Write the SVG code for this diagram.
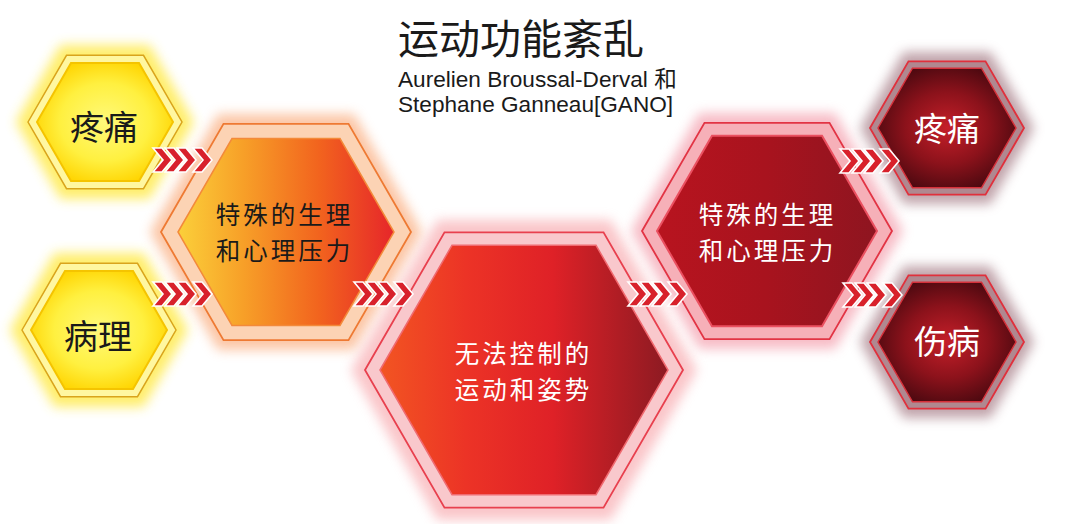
<svg xmlns="http://www.w3.org/2000/svg" xmlns:xlink="http://www.w3.org/1999/xlink" width="1081" height="524" viewBox="0 0 1081 524">
<style>
.cjk{font-family:"Noto Sans CJK SC","Noto Sans",sans-serif;}
.lat{font-family:"Liberation Sans","Noto Sans CJK SC",Arial,sans-serif;}
.dark{fill:#1a1a1a;}
.light{fill:#ffffff;}
.two{font-size:24.5px;letter-spacing:3px;}
.chev{fill:#d8212b;stroke:#ffffff;stroke-width:1.6;stroke-linejoin:miter;}
</style>
<defs>
<filter id="blur" x="-30%" y="-30%" width="160%" height="160%"><feGaussianBlur stdDeviation="6"/></filter>
<radialGradient id="gYellow" cx="50%" cy="50%" r="55%">
<stop offset="0" stop-color="#fff97a"/><stop offset="0.6" stop-color="#fff040"/><stop offset="1" stop-color="#ffd400"/>
</radialGradient>
<linearGradient id="gOrange" x1="0" y1="0" x2="1" y2="0">
<stop offset="0" stop-color="#fbd03a"/><stop offset="0.3" stop-color="#f7a028"/><stop offset="0.65" stop-color="#f2641e"/><stop offset="1" stop-color="#e6262a"/>
</linearGradient>
<linearGradient id="gRed" x1="0" y1="0" x2="1" y2="0">
<stop offset="0" stop-color="#f25522"/><stop offset="0.3" stop-color="#ec3326"/><stop offset="0.6" stop-color="#df2127"/><stop offset="1" stop-color="#8c1a22"/>
</linearGradient>
<linearGradient id="gCrimson" x1="0" y1="0" x2="1" y2="0">
<stop offset="0" stop-color="#b8141f"/><stop offset="0.5" stop-color="#a8131e"/><stop offset="1" stop-color="#8e1520"/>
</linearGradient>
<radialGradient id="gDark" cx="50%" cy="50%" r="55%">
<stop offset="0" stop-color="#c51f29"/><stop offset="0.55" stop-color="#8c121b"/><stop offset="1" stop-color="#4c0910"/>
</radialGradient>
<g id="chevs">
<polygon class="chev" points="0,0 9,0 19,12 9,24 0,24 10,12"/>
<polygon class="chev" points="12,0 21,0 31,12 21,24 12,24 22,12"/>
<polygon class="chev" points="24,0 33,0 43,12 33,24 24,24 34,12"/>
<polygon class="chev" points="40,0 49,0 59,12 49,24 40,24 50,12"/>
</g>
</defs>
<rect width="1081" height="524" fill="#ffffff"/>

<g id="title">
<text class="cjk dark" x="398" y="54" font-size="41">运动功能紊乱</text>
<text class="lat dark" x="398" y="87" font-size="22.6">Aurelien Broussal-Derval 和</text>
<text class="lat dark" x="398" y="112" font-size="22.6">Stephane Ganneau[GANO]</text>
</g>

<g id="node-pain-left">
<polygon points="16,122 60.5,45 149.5,45 194,122 149.5,199 60.5,199" fill="#ffe83a" opacity="0.75" filter="url(#blur)"/>
<polygon points="28,122 66.5,55.3 143.5,55.3 182,122 143.5,188.7 66.5,188.7" fill="#fff7a0" stroke="#d9a41c" stroke-width="1.5"/>
<polygon points="37,122 71,63 139,63 173,122 139,181 71,181" fill="url(#gYellow)" stroke="#f5c400" stroke-width="2"/>
<text class="cjk dark" x="104" y="140" font-size="34" text-anchor="middle">疼痛</text>
</g>

<g id="node-pathology">
<polygon points="10,330 54.5,253 143.5,253 188,330 143.5,407 54.5,407" fill="#ffe83a" opacity="0.75" filter="url(#blur)"/>
<polygon points="22,330 60.5,263.3 137.5,263.3 176,330 137.5,396.7 60.5,396.7" fill="#fff7a0" stroke="#d9a41c" stroke-width="1.5"/>
<polygon points="31,330 65,271 133,271 167,330 133,389 65,389" fill="url(#gYellow)" stroke="#f5c400" stroke-width="2"/>
<text class="cjk dark" x="98" y="349" font-size="34" text-anchor="middle">病理</text>
</g>

<g id="node-stress-left">
<polygon points="150,232 218,114 354,114 422,232 354,350 218,350" fill="#f9a06a" opacity="0.6" filter="url(#blur)"/>
<polygon points="161,232 223.5,123.8 348.5,123.8 411,232 348.5,340.2 223.5,340.2" fill="#fcd3b4" stroke="#ee7a33" stroke-width="1.8"/>
<polygon points="178,232 232,138.5 340,138.5 394,232 340,325.5 232,325.5" fill="url(#gOrange)" stroke="#f38a3a" stroke-width="1.5"/>
<text class="cjk dark two" x="284.5" y="223.5" text-anchor="middle">特殊的生理</text>
<text class="cjk dark two" x="284.5" y="259.5" text-anchor="middle">和心理压力</text>
</g>

<g id="node-uncontrolled">
<polygon points="351,370 437.5,220 610.5,220 697,370 610.5,520 437.5,520" fill="#f7a0a6" opacity="0.6" filter="url(#blur)"/>
<polygon points="365,370 444.5,232.3 603.5,232.3 683,370 603.5,507.7 444.5,507.7" fill="#f9c8cc" stroke="#e8404e" stroke-width="1.8"/>
<polygon points="380,370 452,245.3 596,245.3 668,370 596,494.7 452,494.7" fill="url(#gRed)" stroke="#f06a70" stroke-width="1.5"/>
<text class="cjk light two" x="523.5" y="362.5" text-anchor="middle">无法控制的</text>
<text class="cjk light two" x="523.5" y="398.5" text-anchor="middle">运动和姿势</text>
</g>

<g id="node-stress-right">
<polygon points="631,231 699,113 835,113 903,231 835,349 699,349" fill="#f290a0" opacity="0.6" filter="url(#blur)"/>
<polygon points="642,231 704.5,122.8 829.5,122.8 892,231 829.5,339.2 704.5,339.2" fill="#f6b0b8" stroke="#e23444" stroke-width="1.8"/>
<polygon points="657,231 712,135.7 822,135.7 877,231 822,326.3 712,326.3" fill="url(#gCrimson)" stroke="#ea5060" stroke-width="2"/>
<text class="cjk light two" x="767.5" y="224" text-anchor="middle">特殊的生理</text>
<text class="cjk light two" x="767.5" y="260" text-anchor="middle">和心理压力</text>
</g>

<g id="node-pain-right">
<polygon points="860,128 903.5,52 990.5,52 1034,128 990.5,204 903.5,204" fill="#8e5a66" opacity="0.55" filter="url(#blur)"/>
<polygon points="870,128 908.5,61.3 985.5,61.3 1024,128 985.5,194.7 908.5,194.7" fill="#b08890" stroke="#e0303c" stroke-width="1.8"/>
<polygon points="878,128 912.5,68.2 981.5,68.2 1016,128 981.5,187.8 912.5,187.8" fill="url(#gDark)" stroke="#d6303a" stroke-width="1.5"/>
<text class="cjk light" x="947" y="141" font-size="33" text-anchor="middle">疼痛</text>
</g>

<g id="node-injury">
<polygon points="860,342 903.5,266 990.5,266 1034,342 990.5,418 903.5,418" fill="#8e5a66" opacity="0.55" filter="url(#blur)"/>
<polygon points="870,342 908.5,275.3 985.5,275.3 1024,342 985.5,408.7 908.5,408.7" fill="#b08890" stroke="#e0303c" stroke-width="1.8"/>
<polygon points="878,342 912.5,282.2 981.5,282.2 1016,342 981.5,401.8 912.5,401.8" fill="url(#gDark)" stroke="#d6303a" stroke-width="1.5"/>
<text class="cjk light" x="947" y="354" font-size="33" text-anchor="middle">伤病</text>
</g>

<g id="connectors">
<use xlink:href="#chevs" href="#chevs" x="153" y="148"/>
<use xlink:href="#chevs" href="#chevs" x="153" y="282"/>
<use xlink:href="#chevs" href="#chevs" x="354" y="282"/>
<use xlink:href="#chevs" href="#chevs" x="628" y="282"/>
<use xlink:href="#chevs" href="#chevs" x="840" y="149"/>
<use xlink:href="#chevs" href="#chevs" x="843" y="283"/>
</g>
</svg>
